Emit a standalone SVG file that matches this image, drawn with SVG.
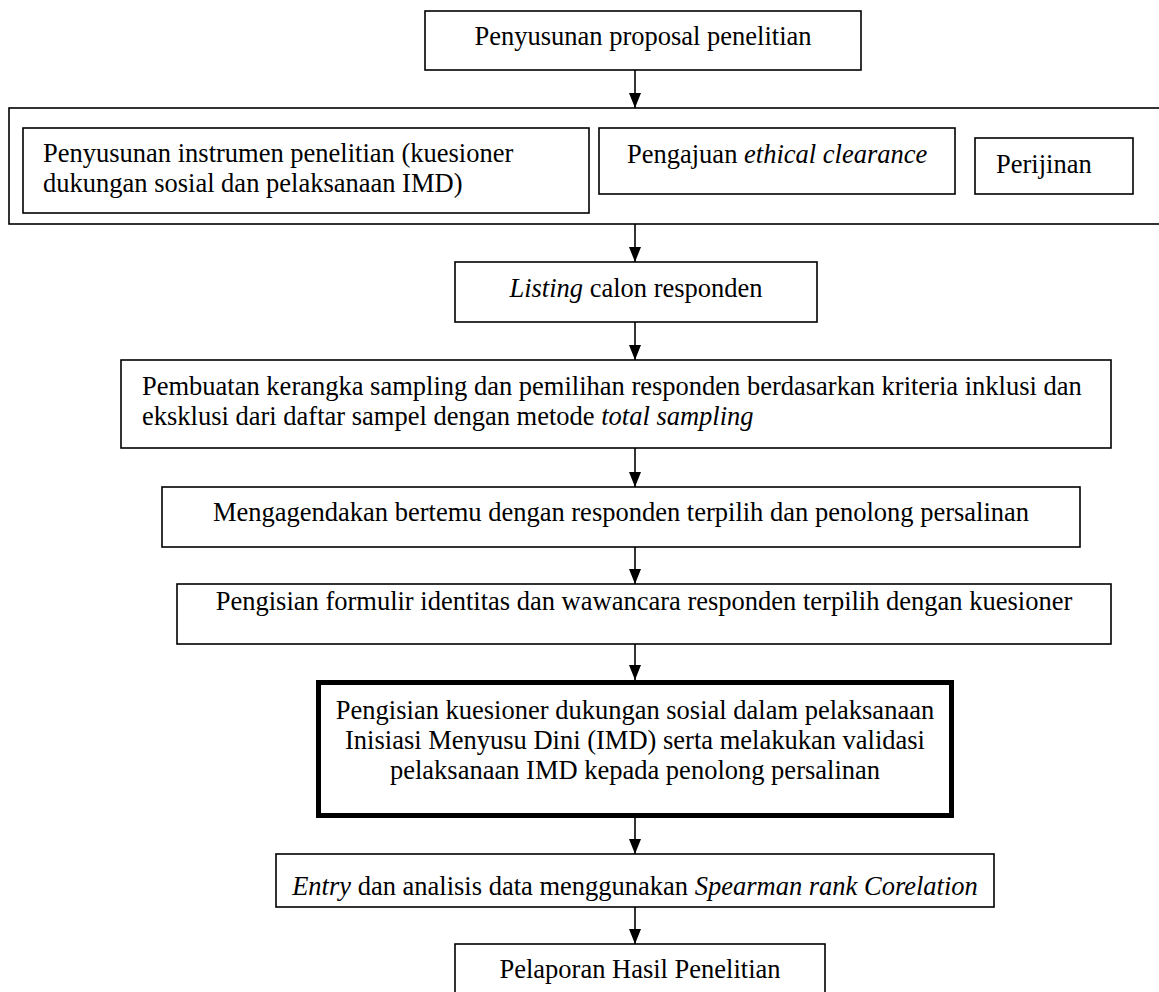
<svg xmlns="http://www.w3.org/2000/svg" width="1159" height="992" viewBox="0 0 1159 992">
<style>
.b{fill:#fff;stroke:#000;stroke-width:1.6}
.t{font-family:"Liberation Serif","Times New Roman",serif;font-size:26.5px;fill:#000}
.m{text-anchor:middle}
.c{stroke:#000;stroke-width:1.6;fill:none;marker-end:url(#ah)}
</style>
<defs>
<marker id="ah" viewBox="0 0 15 12" refX="15" refY="6" markerWidth="15" markerHeight="12" markerUnits="userSpaceOnUse" orient="auto">
<path d="M0,0 L15,6 L0,12 z" fill="#000"/>
</marker>
</defs>
<rect width="1159" height="992" fill="#fff"/>
<g id="connectors">
<line class="c" x1="635" y1="70" x2="635" y2="108"/>
<line class="c" x1="635" y1="224" x2="635" y2="262"/>
<line class="c" x1="635" y1="322" x2="635" y2="360"/>
<line class="c" x1="635" y1="448" x2="635" y2="487"/>
<line class="c" x1="635" y1="547" x2="635" y2="584"/>
<line class="c" x1="635" y1="644" x2="635" y2="680"/>
<line class="c" x1="635" y1="818" x2="635" y2="854"/>
<line class="c" x1="635" y1="907" x2="635" y2="944"/>
</g>
<g id="n1"><rect class="b" x="425" y="11" width="436" height="59"/><text class="t m" x="643" y="45">Penyusunan proposal penelitian</text></g>
<g id="n2"><rect class="b" x="9" y="108" width="1160" height="116"/></g>
<g id="n2a"><rect class="b" x="23" y="128" width="566" height="85"/><text class="t" x="43" y="162">Penyusunan instrumen penelitian (kuesioner</text><text class="t" x="43" y="192">dukungan sosial dan pelaksanaan IMD)</text></g>
<g id="n2b"><rect class="b" x="599" y="128" width="356" height="66"/><text class="t" x="627" y="163">Pengajuan <tspan font-style="italic">ethical clearance</tspan></text></g>
<g id="n2c"><rect class="b" x="975" y="138" width="158" height="56"/><text class="t" x="996" y="173">Perijinan</text></g>
<g id="n3"><rect class="b" x="455" y="262" width="362" height="60"/><text class="t m" x="636" y="297"><tspan font-style="italic">Listing</tspan> calon responden</text></g>
<g id="n4"><rect class="b" x="121" y="360" width="990" height="88"/><text class="t" x="142" y="395">Pembuatan kerangka sampling dan pemilihan responden berdasarkan kriteria inklusi dan</text><text class="t" x="142" y="425">eksklusi dari daftar sampel dengan metode <tspan font-style="italic">total sampling</tspan></text></g>
<g id="n5"><rect class="b" x="162" y="487" width="918" height="60"/><text class="t m" x="621" y="521">Mengagendakan bertemu dengan responden terpilih dan penolong persalinan</text></g>
<g id="n6"><rect class="b" x="177" y="584" width="934" height="60"/><text class="t m" x="644" y="610">Pengisian formulir identitas dan wawancara responden terpilih dengan kuesioner</text></g>
<g id="n7"><rect x="318.5" y="682.5" width="633" height="133" fill="#fff" stroke="#000" stroke-width="5"/><text class="t m" x="635" y="719">Pengisian kuesioner dukungan sosial dalam pelaksanaan</text><text class="t m" x="635" y="749">Inisiasi Menyusu Dini (IMD) serta melakukan validasi</text><text class="t m" x="635" y="779">pelaksanaan IMD kepada penolong persalinan</text></g>
<g id="n8"><rect class="b" x="276" y="854" width="718" height="53"/><text class="t m" x="635" y="895"><tspan font-style="italic">Entry</tspan> dan analisis data menggunakan <tspan font-style="italic">Spearman rank Corelation</tspan></text></g>
<g id="n9"><rect class="b" x="455" y="944" width="370" height="60"/><text class="t m" x="640" y="978">Pelaporan Hasil Penelitian</text></g>
</svg>
